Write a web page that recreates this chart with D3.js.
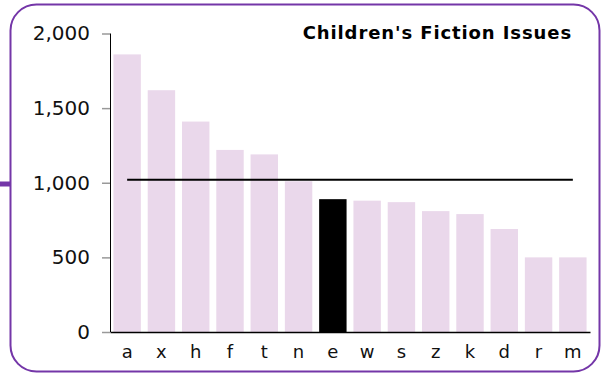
<!DOCTYPE html>
<html>
<head>
<meta charset="utf-8">
<script src="https://cdn.jsdelivr.net/npm/d3@7"></script>
<style>
  html, body { margin: 0; padding: 0; background: #fff; }
  svg { display: block; }
</style>
</head>
<body>
<svg id="chart" width="604" height="374"></svg>
<script>
// Issues per branch, sorted high to low; "e" is the highlighted branch
const categories = ["a", "x", "h", "f", "t", "n", "e", "w", "s", "z", "k", "d", "r", "m"];
const issues = [1860, 1620, 1410, 1220, 1190, 1010, 890, 880, 870, 810, 790, 690, 500, 500];
const highlight = "e";
const averageIssues = 1020;
const yTicks = [0, 500, 1000, 1500, 2000];
const title = "Children's Fiction Issues";

const svg = d3.select("#chart");
const font = "'DejaVu Sans', Verdana, sans-serif";
const purple = "#7436a8";

// rounded frame and the small side marker
svg.append("rect")
  .attr("x", 10.5).attr("y", 4.5)
  .attr("width", 589).attr("height", 367)
  .attr("rx", 26).attr("ry", 26)
  .attr("fill", "#fff")
  .attr("stroke", purple).attr("stroke-width", 2);

svg.append("rect")
  .attr("x", 0).attr("y", 181.5)
  .attr("width", 10).attr("height", 5)
  .attr("fill", purple);

const x = d3.scaleBand()
  .domain(categories)
  .range([110, 590])
  .paddingInner(0.2)
  .paddingOuter(0.1);

const y = d3.scaleLinear()
  .domain([0, 2000])
  .range([332, 33.5]);

// bars
svg.append("g")
  .selectAll("rect")
  .data(categories)
  .join("rect")
  .attr("x", d => x(d))
  .attr("y", (d, i) => y(issues[i]))
  .attr("width", x.bandwidth())
  .attr("height", (d, i) => y(0) - y(issues[i]))
  .attr("fill", d => d === highlight ? "#000" : "#ead8eb");

// average line across band centres
svg.append("line")
  .attr("x1", x(categories[0]) + x.bandwidth() / 2)
  .attr("x2", x(categories[categories.length - 1]) + x.bandwidth() / 2)
  .attr("y1", y(averageIssues))
  .attr("y2", y(averageIssues))
  .attr("stroke", "#000")
  .attr("stroke-width", 2);

// y axis
const yAxis = svg.append("g")
  .attr("transform", "translate(110,0)")
  .call(d3.axisLeft(y).tickValues(yTicks).tickFormat(d3.format(",")).tickSize(8).tickPadding(12));
yAxis.select(".domain").attr("stroke", "#000").attr("d", `M0.5,${y(2000)}V${y(0)}`);
yAxis.selectAll(".tick line").attr("stroke", "#999").attr("stroke-width", 1.5);
yAxis.selectAll(".tick text")
  .attr("font-family", font)
  .attr("font-size", 20)
  .attr("fill", "#111");

// x axis
const xAxis = svg.append("g")
  .attr("transform", "translate(0,332)")
  .call(d3.axisBottom(x).tickSize(0).tickPadding(13));
xAxis.select(".domain").attr("stroke", "#000").attr("stroke-width", 1.5);
xAxis.selectAll(".tick text")
  .attr("font-family", font)
  .attr("font-size", 18)
  .attr("fill", "#111");

// title
svg.append("text")
  .attr("x", 572)
  .attr("y", 39)
  .attr("text-anchor", "end")
  .attr("font-family", font)
  .attr("font-weight", "bold")
  .attr("font-size", 18)
  .attr("letter-spacing", 0.9)
  .attr("fill", "#000")
  .text(title);
</script>
</body>
</html>
